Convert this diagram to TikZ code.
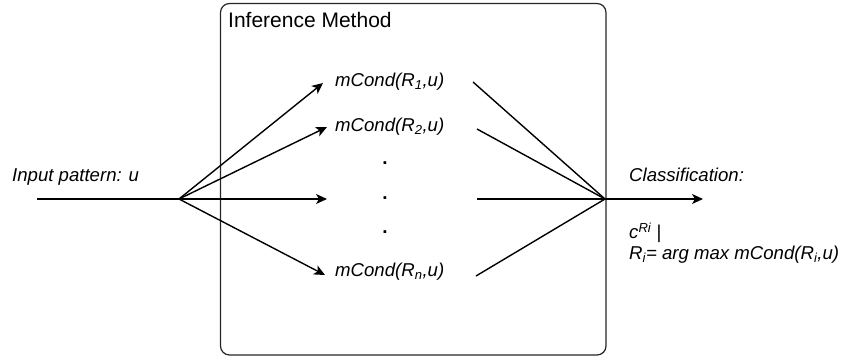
\documentclass[tikz,border=0pt]{standalone}
\usepackage{fontspec}
\setmainfont{Liberation Sans}
\usetikzlibrary{arrows.meta}
\tikzset{
  conn/.style={line width=1.4pt, -{Stealth[length=11pt,width=10pt,inset=3pt]}},
  plain/.style={line width=1.4pt},
  lbl/.style={inner sep=0pt, font=\fontsize{18.6}{21}\selectfont\itshape},
  dotlbl/.style={inner sep=0pt, font=\fontsize{19}{21}\selectfont\bfseries},
  boxstyle/.style={draw=black!85, line width=1.2pt, rounded corners=9pt},
}
\begin{document}
\begin{tikzpicture}[x=1pt,y=-1pt]
\useasboundingbox (0,0) rectangle (843,358);
% box
\draw[boxstyle] (220.5,3.5) rectangle (606,355);
\node[anchor=west, inner sep=0pt, font=\fontsize{21}{25}\selectfont] (title) at (228,20) {Inference Method};
% key points
\coordinate (in) at (37,199);
\coordinate (fanL) at (179,199);
\coordinate (fanR) at (605,199);
\coordinate (out) at (703,199);
\coordinate (t1) at (323,83);
\coordinate (t2) at (327,127);
\coordinate (t3) at (327,199);
\coordinate (t4) at (325,275);
\coordinate (s1) at (473,82);
\coordinate (s2) at (477,129);
\coordinate (s3) at (477,199);
\coordinate (s4) at (476,276);
% labels
\node[lbl, anchor=west] (inp) at (12,177) {Input pattern: u};
\node[lbl, anchor=west] (m1) at (335,82) {mCond(R\textsubscript{1},u)};
\node[lbl, anchor=west] (m2) at (335,127) {mCond(R\textsubscript{2},u)};
\node[lbl, anchor=west] (mn) at (335,272) {mCond(R\textsubscript{n},u)};
\node[dotlbl, anchor=base] (d1) at (385,164.5) {.};
\node[dotlbl, anchor=base] (d2) at (385,199.5) {.};
\node[dotlbl, anchor=base] (d3) at (385,233.5) {.};
\node[lbl, anchor=west] (cls) at (629,175) {Classification:};
\node[lbl, anchor=west, align=left] (res) at (629,243) {c\textsuperscript{Ri} |\\R\textsubscript{i}= arg max mCond(R\textsubscript{i},u)};
% connectors
\draw[plain] (in) -- (fanL);
\draw[conn] (fanL) -- (t1);
\draw[conn] (fanL) -- (t2);
\draw[conn] (fanL) -- (t3);
\draw[conn] (fanL) -- (t4);
\draw[plain] (s1) -- (fanR);
\draw[plain] (s2) -- (fanR);
\draw[plain] (s3) -- (fanR);
\draw[plain] (s4) -- (fanR);
\draw[conn] (fanR) -- (out);
\end{tikzpicture}
\end{document}
